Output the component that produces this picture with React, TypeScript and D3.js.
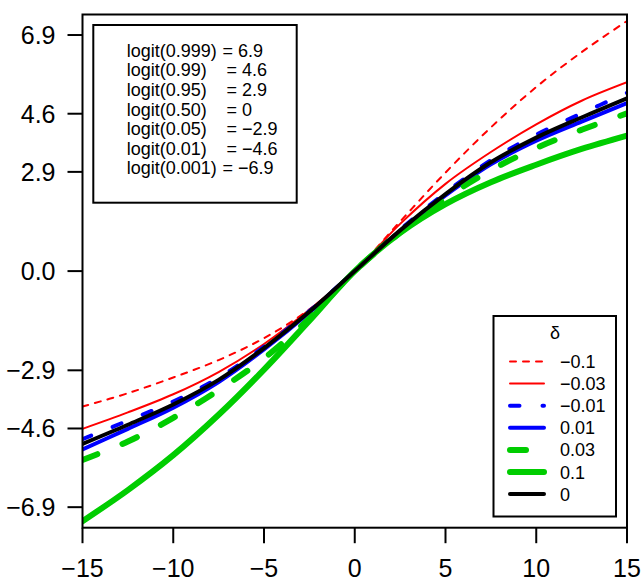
import React from "react";
import * as d3 from "d3";

// x grid (linear predictor)
const xs = [-15, -12.5, -10, -7.5, -5, -2.5, 0, 2.5, 5, 7.5, 10, 12.5, 15];

// series values, one per delta
const dM010 = [-3.96, -3.57, -3.11, -2.6, -1.96, -1.12, 0, 1.45, 2.88, 4.2, 5.38, 6.4, 7.31];
const dM003 = [-4.61, -4.13, -3.6, -2.95, -2.13, -1.13, 0, 1.38, 2.55, 3.48, 4.29, 4.98, 5.52];
const dM001 = [-4.91, -4.37, -3.81, -3.12, -2.21, -1.17, 0, 1.21, 2.29, 3.24, 3.99, 4.61, 5.21];
const dP001 = [-5.21, -4.61, -3.99, -3.24, -2.29, -1.21, 0, 1.17, 2.21, 3.12, 3.81, 4.37, 4.91];
const dP003 = [-5.52, -4.98, -4.29, -3.48, -2.55, -1.38, 0, 1.13, 2.13, 2.95, 3.6, 4.13, 4.61];
const dP010 = [-7.31, -6.4, -5.38, -4.2, -2.88, -1.45, 0, 1.12, 1.96, 2.6, 3.11, 3.57, 3.96];
const dZero = [-5.05, -4.49, -3.9, -3.18, -2.25, -1.19, 0, 1.19, 2.25, 3.18, 3.9, 4.49, 5.05];

const deltaLabels = ["\u22120.1", "\u22120.03", "\u22120.01", "0.01", "0.03", "0.1", "0"];

const xTicks = [-15, -10, -5, 0, 5, 10, 15];
const yTicks = [6.9, 4.6, 2.9, 0, -2.9, -4.6, -6.9];

const logitLabels = ["logit(0.999)", "logit(0.99)", "logit(0.95)", "logit(0.50)", "logit(0.05)", "logit(0.01)", "logit(0.001)"];
const logitValues = ["6.9", "4.6", "2.9", "0", "\u22122.9", "\u22124.6", "\u22126.9"];

type Style = { color: string; width: number; dash: string | null };
const styles: Style[] = [
  { color: "#FF0000", width: 2, dash: "6,7" },
  { color: "#FF0000", width: 2, dash: null },
  { color: "#0000FF", width: 4, dash: "9.5,23" },
  { color: "#0000FF", width: 4, dash: null },
  { color: "#00CD00", width: 6, dash: "16,27" },
  { color: "#00CD00", width: 6, dash: null },
  { color: "#000000", width: 4, dash: null },
];
const seriesList = [dM010, dM003, dM001, dP001, dP003, dP010, dZero];

const W = 642;
const H = 582;
const L = 82.5, R = 627, T = 14.5, B = 527.7;

export default function App() {
  const x = d3.scaleLinear().domain([-15, 15]).range([L, R]);
  const y = d3.scaleLinear().domain([-7.5, 7.5]).range([B, T]);
  const line = d3
    .line<number>()
    .x((_, i) => x(xs[i]))
    .y((d) => y(d))
    .curve(d3.curveCatmullRom.alpha(0.5));

  const font = "'Liberation Sans', Arial, Helvetica, sans-serif";
  const minus = (v: number) => d3.format(".1f")(v).replace("-", "\u2212");

  const legX1 = 510, legX2 = 544;
  const legY0 = 361.5, legDy = 22.1;

  return (
    <svg
      width={W}
      height={H}
      style={{ position: "absolute", left: 0, top: 0, background: "#fff" }}
      fontFamily={font}
    >
      <defs>
        <clipPath id="plotclip">
          <rect x={L} y={T} width={R - L} height={B - T} />
        </clipPath>
      </defs>
      <rect x={0} y={0} width={W} height={H} fill="#fff" />

      <g clipPath="url(#plotclip)">
        {seriesList.map((s, i) => (
          <path
            key={i}
            d={line(s) || ""}
            fill="none"
            stroke={styles[i].color}
            strokeWidth={styles[i].width}
            strokeDasharray={styles[i].dash || undefined}
            strokeLinecap="round"
            strokeLinejoin="round"
          />
        ))}
      </g>

      {/* box */}
      <rect x={L} y={T} width={R - L} height={B - T} fill="none" stroke="#000" strokeWidth={2} />

      {/* x axis */}
      {xTicks.map((t) => (
        <g key={"x" + t}>
          <line x1={x(t)} x2={x(t)} y1={B} y2={B + 15.5} stroke="#000" strokeWidth={2} />
          <text x={x(t)} y={577} textAnchor="middle" fontSize={25}>
            {String(t).replace("-", "\u2212")}
          </text>
        </g>
      ))}

      {/* y axis */}
      {yTicks.map((t) => (
        <g key={"y" + t}>
          <line x1={L} x2={L - 15} y1={y(t)} y2={y(t)} stroke="#000" strokeWidth={2} />
          <text x={55.5} y={y(t) + 8.8} textAnchor="end" fontSize={25}>
            {minus(t)}
          </text>
        </g>
      ))}

      {/* logit legend */}
      <rect x={93.3} y={25} width={203.4} height={177.7} fill="#fff" stroke="#000" strokeWidth={2} />
      {logitLabels.map((lab, i) => (
        <g key={"lg" + i}>
          <text x={126.7} y={56.7 + i * 19.6} fontSize={18}>
            {lab}
          </text>
          <text x={i === 0 || i === 6 ? 222.5 : 226.5} y={56.7 + i * 19.6} fontSize={18}>
            {"= " + logitValues[i]}
          </text>
        </g>
      ))}

      {/* delta legend */}
      <rect x={493.5} y={316} width={122.5} height={200.5} fill="#fff" stroke="#000" strokeWidth={2} />
      <text x={555} y={339} textAnchor="middle" fontSize={18}>
        {"\u03B4"}
      </text>
      {deltaLabels.map((lab, i) => {
        const yy = legY0 + i * legDy;
        return (
          <g key={"dl" + i}>
            <line
              x1={legX1}
              x2={legX2}
              y1={yy}
              y2={yy}
              stroke={styles[i].color}
              strokeWidth={styles[i].width}
              strokeDasharray={styles[i].dash || undefined}
              strokeLinecap="round"
            />
            <text x={560} y={yy + 6.5} fontSize={18}>
              {lab}
            </text>
          </g>
        );
      })}
    </svg>
  );
}
